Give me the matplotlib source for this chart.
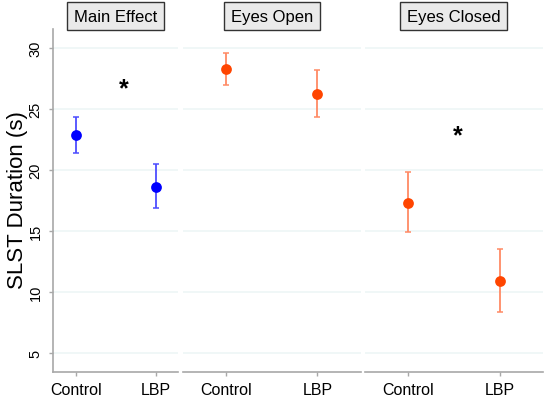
import matplotlib
matplotlib.use('Agg')
import matplotlib.pyplot as plt

plt.rcParams['font.family'] = ['Liberation Sans', 'DejaVu Sans']

# --- Dados ---
grupos = ['Control', 'LBP']
paineis = ['Main Effect', 'Eyes Open', 'Eyes Closed']

media_main = [22.9, 18.6]
sup_main = [24.3, 20.5]
inf_main = [21.4, 16.9]

media_open = [28.3, 26.2]
sup_open = [29.6, 28.2]
inf_open = [27.0, 24.3]

media_closed = [17.3, 10.9]
sup_closed = [19.8, 13.5]
inf_closed = [14.9, 8.4]

# posicao e altura dos asteriscos de significancia (None = sem)
estrela_x = [1.6, None, 1.54]
estrela_y = [26.7, None, 22.8]

yticks = [5, 10, 15, 20, 25, 30]

medias = [media_main, media_open, media_closed]
superiores = [sup_main, sup_open, sup_closed]
inferiores = [inf_main, inf_open, inf_closed]
cores_ponto = ['#0000ff', '#ff4500', '#ff4500']
cores_barra = ['#4d4dff', '#ff8a65', '#ff8a65']

fig = plt.figure(figsize=(5.5, 4.02), dpi=100)

# posicoes dos paineis em fracao da figura
posicoes = [
    [0.0964, 0.0721, 0.2273, 0.8533],
    [0.3322, 0.0721, 0.3243, 0.8533],
    [0.6636, 0.0721, 0.3236, 0.8533],
]
limites_x = [(0.71, 2.28), (0.52, 2.48), (0.53, 2.47)]

x = [1, 2]
for i in range(3):
    ax = fig.add_axes(posicoes[i])
    erro_inf = [m - l for m, l in zip(medias[i], inferiores[i])]
    erro_sup = [u - m for m, u in zip(medias[i], superiores[i])]
    ax.errorbar(x, medias[i], yerr=[erro_inf, erro_sup], fmt='none',
                ecolor=cores_barra[i], elinewidth=1.3, capsize=2.5, capthick=1.1, zorder=2)
    ax.scatter(x, medias[i], s=60, color=cores_ponto[i], zorder=3, linewidths=0)

    ax.set_xlim(*limites_x[i])
    ax.set_ylim(3.45, 31.55)
    ax.set_xticks(x)
    ax.set_xticklabels(grupos, fontsize=11.5)
    ax.set_yticks(yticks)
    ax.grid(axis='y', color='#eef6f6', linewidth=1.2, zorder=0)
    ax.set_axisbelow(True)

    for lado in ['top', 'right']:
        ax.spines[lado].set_visible(False)
    ax.spines['bottom'].set_color('#a8a8a8')
    ax.spines['bottom'].set_linewidth(1.2)
    ax.tick_params(axis='x', colors='#a8a8a8', labelcolor='black', length=3, width=1, pad=4)

    if i == 0:
        ax.spines['left'].set_color('#a8a8a8')
        ax.spines['left'].set_linewidth(1.2)
        ax.tick_params(axis='y', colors='#a8a8a8', labelcolor='black', length=3, width=1,
                       labelsize=10.5, pad=4.5)
        for rotulo in ax.get_yticklabels():
            rotulo.set_rotation(90)
            rotulo.set_va('center')
        ax.set_ylabel('SLST Duration (s)', fontsize=16)
        ax.yaxis.set_label_coords(-0.2, 0.505)
    else:
        ax.spines['left'].set_visible(False)
        ax.tick_params(axis='y', left=False, labelleft=False)

    if estrela_x[i] is not None:
        ax.text(estrela_x[i], estrela_y[i], '*', fontsize=18, fontweight='bold',
                ha='center', va='center')

    ax.text(0.5, 1.037, paineis[i], transform=ax.transAxes, fontsize=12,
            ha='center', va='center',
            bbox=dict(boxstyle='square,pad=0.4', facecolor='#eaeaea',
                      edgecolor='#333333', linewidth=1))

fig.savefig('out.png', dpi=100)
